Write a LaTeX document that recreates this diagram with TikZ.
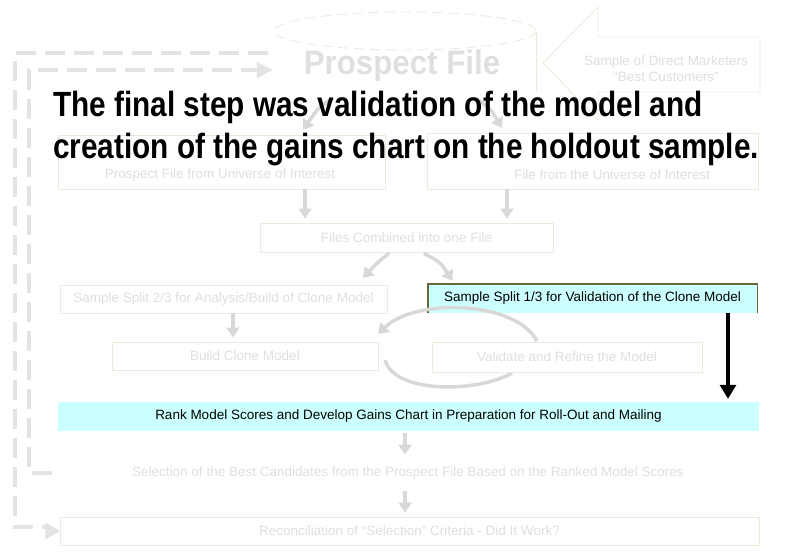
\documentclass[tikz,border=0pt]{standalone}
\usepackage{fontspec}
\setmainfont{Liberation Sans}
\newfontfamily\titlefont[FakeStretch=0.85]{Liberation Sans}
\newfontfamily\bigfont[FakeStretch=0.92]{Liberation Sans}
\usetikzlibrary{arrows.meta,calc}

\definecolor{fadetext}{HTML}{DFDFDF}
\definecolor{fadeline}{HTML}{EBEBDC}
\definecolor{fadearrow}{HTML}{D8D8D8}
\definecolor{fadedash}{HTML}{E3E3E3}
\definecolor{hilite}{HTML}{CCFFFF}
\definecolor{boxolive}{HTML}{66663A}

\tikzset{
  stepbox/.style={draw=fadeline, line width=0.9pt, fill=white, inner sep=0pt},
  fadelabel/.style={text=fadetext, inner sep=0pt, font=\fontsize{13.5}{16}\selectfont},
  darklabel/.style={text=black, inner sep=0pt, font=\fontsize{13.5}{16}\selectfont},
  flowarrow/.style={draw=fadearrow, line width=3.5pt, -{Triangle[length=10pt,width=13pt]}},
  feedback/.style={draw=fadedash, line width=3.5pt, dash pattern=on 20pt off 9pt},
  titleline/.style={anchor=base west, inner sep=0pt, font=\titlefont\bfseries\fontsize{35}{40}\selectfont}
}

\begin{document}
\begin{tikzpicture}[x=1pt,y=-1pt]
\useasboundingbox (0,0) rectangle (805,556);

% ---- dashed feedback paths along the left edge
\coordinate (outertop) at (268,53);
\coordinate (innertop) at (272,70);
\draw[feedback] (outertop) -- (15,53) -- (15,527) -- (50,527);
\draw[feedback] (52,473) -- (29,473) -- (29,70) -- (260,70);
\draw[draw=fadedash, fill=fadedash] (innertop) -- (257,62) -- (257,78) -- cycle;

% ---- prospect file cylinder
\draw[draw=fadeline, line width=0.9pt, dash pattern=on 10pt off 6pt] (405,31) ellipse [x radius=131, y radius=19];
\draw[draw=fadeline, line width=0.9pt] (536,31) -- (536,92);
\node[text=fadetext, inner sep=0pt, font=\bigfont\bfseries\fontsize{34}{38}\selectfont] (prospect) at (402,66) {Prospect File};
\coordinate (cylleft) at (333,98);
\coordinate (cylright) at (475,98);

% ---- callout arrow
\draw[draw=fadeline, line width=0.9pt, fill=white]
  (543,63) -- (598,7) -- (598,37) -- (760,37) -- (760,92) -- (598,92) -- (598,120) -- cycle;
\node[fadelabel, align=center] (callout) at (666,69) {Sample of Direct Marketers\\``Best Customers''};

% ---- upper boxes
\node[stepbox, minimum width=327pt, minimum height=54pt] (prospectbox) at (221.5,162) {};
\node[fadelabel] (prospecttxt) at (220,175) {Prospect File from Universe of Interest};
\node[stepbox, minimum width=331pt, minimum height=56pt] (matchbox) at (592.5,161) {};
\node[fadelabel] (matchtxt) at (612,175) {File from the Universe of Interest};

\draw[flowarrow] (cylleft) .. controls (318,108) .. (303,130);
\draw[flowarrow] (cylright) .. controls (490,108) .. (502,128);

\node[stepbox, fadelabel, minimum width=293pt, minimum height=29pt] (combined) at (406.5,237.5) {Files Combined into one File};
\draw[flowarrow, shorten >=4pt] (prospectbox.south -| 305,0) -- (combined.north -| 305,0);
\draw[flowarrow, shorten >=4pt] (matchbox.south -| 507,0) -- (combined.north -| 507,0);

% ---- split
\node[stepbox, fadelabel, minimum width=327pt, minimum height=28pt] (split1) at (223.5,299) {Sample Split 2/3 for Analysis/Build of Clone Model};
\node[fill=hilite, minimum width=329pt, minimum height=29pt, inner sep=0pt] (split2) at (592.5,298.5) {};
\draw[boxolive, line width=1.4pt] (split2.south west) -- (split2.north west) -- (split2.north east) -- (split2.south east);
\node[darklabel] (split2txt) at (split2.center) {Sample Split 1/3 for Validation of the Clone Model};

\draw[flowarrow, shorten <=1pt, shorten >=7pt] (combined.south -| 390,0) .. controls (378,262) .. (358,283);
\draw[flowarrow, shorten <=2pt, shorten >=4pt] (combined.south -| 422,0) .. controls (440,262) .. (455,284);

% ---- model building and validation loop
\node[stepbox, fadelabel, minimum width=266pt, minimum height=28pt] (build) at (245,356) {Build Clone Model};
\draw[flowarrow, shorten >=4pt] (split1.south -| 233,0) -- (build.north -| 233,0);

\coordinate (looptop) at (537,341);
\coordinate (loopleft) at (378,334);
\coordinate (loopbot) at (385,360);
\coordinate (loopend) at (512,373);
\draw[draw=fadearrow, line width=3.5pt] (loopbot) .. controls (395,395) and (480,392) .. (loopend);
\node[stepbox, fadelabel, minimum width=270pt, minimum height=30pt] (validate) at (567,357) {Validate and Refine the Model};
\draw[flowarrow] (looptop) .. controls (515,300) and (415,298) .. (loopleft);

% ---- gains chart and roll-out
\node[fill=hilite, darklabel, minimum width=701pt, minimum height=29pt] (rank) at (408.5,416.5) {Rank Model Scores and Develop Gains Chart in Preparation for Roll-Out and Mailing};
\draw[black, line width=3.2pt, -{Triangle[length=14pt,width=16pt]}, shorten >=3pt] (split2.south -| 728,0) -- (rank.north -| 728,0);

\node[fadelabel] (select) at (408,473) {Selection of the Best Candidates from the Prospect File Based on the Ranked Model Scores};
\node[stepbox, fadelabel, minimum width=699pt, minimum height=28pt] (recon) at (409.5,531) {Reconciliation of ``Selection'' Criteria - Did It Work?};
\draw[flowarrow, shorten <=2pt, shorten >=12pt] (rank.south -| 405,0) -- (select.north -| 405,0);
\draw[flowarrow, shorten <=12pt, shorten >=4pt] (select.south -| 405,0) -- (recon.north -| 405,0);

% outer feedback arrowhead into the reconciliation box
\draw[draw=fadedash, fill=fadedash] (recon.west) -- ([xshift=-14pt, yshift=-8pt]recon.west) -- ([xshift=-14pt, yshift=8pt]recon.west) -- cycle;

% ---- headline
\node[titleline] (title1) at (53,117) {The final step was validation of the model and};
\node[titleline] (title2) at (53,159) {creation of the gains chart on the holdout sample.};
\end{tikzpicture}
\end{document}
